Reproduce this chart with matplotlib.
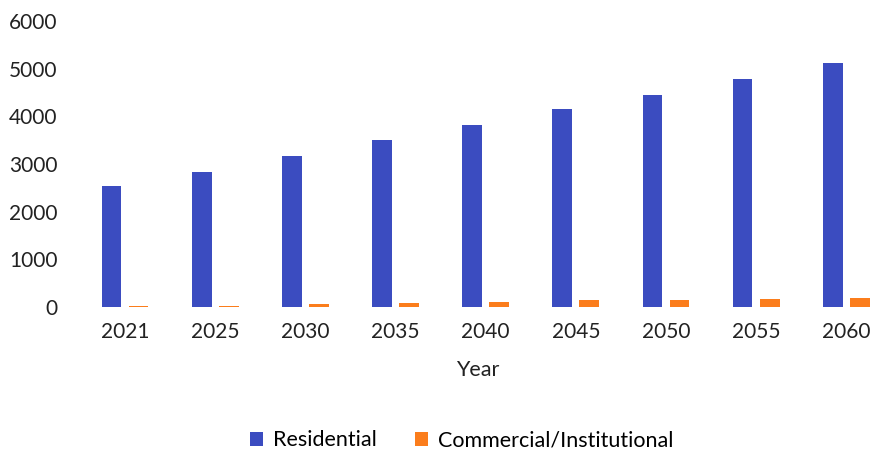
import numpy as np
import matplotlib.pyplot as plt

years = ['2021', '2025', '2030', '2035', '2040', '2045', '2050', '2055', '2060']
residential = [2530, 2830, 3165, 3500, 3815, 4150, 4450, 4780, 5110]
commercial = [30, 30, 60, 80, 110, 140, 150, 160, 190]

plt.rcParams['font.family'] = ['Lato', 'DejaVu Sans']

fig = plt.figure(figsize=(8.76, 4.53), dpi=100)
ax = fig.add_axes([0.0913, 0.322, 0.9087, 0.632])

x = np.arange(len(years))
w = 0.22
ax.bar(x - 0.15, residential, w, color='#3b4cc0', label='Residential')
ax.bar(x + 0.15, commercial, w, color='#fb7d1c', label='Commercial/Institutional')

ax.set_xlim(-0.5, 8.33)
ax.set_ylim(0, 6000)
ax.set_yticks(range(0, 6001, 1000))
ax.set_xticks(x)
ax.set_xticklabels(years)
ax.tick_params(axis='both', length=0, labelsize=15, colors='#222222')
ax.tick_params(axis='y', pad=16)
ax.tick_params(axis='x', pad=11)
for s in ax.spines.values():
    s.set_visible(False)

ax.set_xlabel('Year', fontsize=15.5, color='#222222', labelpad=13)
fig.legend(loc='center', bbox_to_anchor=(0.527, 0.028), ncol=2, frameon=False,
           fontsize=15.5, handlelength=0.6, handleheight=0.6, columnspacing=1.8,
           handletextpad=0.45)

plt.savefig('out.png')
